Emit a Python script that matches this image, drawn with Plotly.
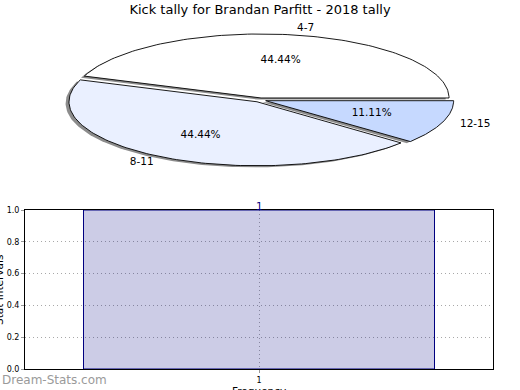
import numpy as np
import plotly.graph_objects as go

# ---- data ----
pie_labels = ["4-7", "8-11", "12-15"]
pie_values = [4, 4, 1]
pie_colors = ["#FFFFFF", "#EAF0FF", "#C6D9FF"]

bar_x = [1]
bar_y = [1]
bar_text = ["1"]
y_ticks = [0.0, 0.2, 0.4, 0.6, 0.8, 1.0]

title_text = "Kick tally for Brandan Parfitt - 2018 tally"
FONT = "DejaVu Sans"

W, H = 520, 390
explode = 0.032
shadow_off = (-0.018, -0.025)

fig = go.Figure()

total = float(sum(pie_values))
angles = []
start = 0.0
for v in pie_values:
    span = 360.0 * v / total
    angles.append((start, start + span))
    start += span

def wedge(t0, t1, cx, cy):
    th = np.radians(np.linspace(t0, t1, 120))
    xs = np.concatenate([[cx], cx + np.cos(th), [cx]])
    ys = np.concatenate([[cy], cy + np.sin(th), [cy]])
    return xs, ys

# shadows
for (t0, t1) in angles:
    mid = np.radians((t0 + t1) / 2)
    cx, cy = explode * np.cos(mid), explode * np.sin(mid)
    xs, ys = wedge(t0, t1, cx + shadow_off[0], cy + shadow_off[1])
    fig.add_trace(go.Scatter(x=xs, y=ys, mode="lines", fill="toself",
                             fillcolor="#8c8c8c", line=dict(color="#8c8c8c", width=0),
                             hoverinfo="skip", showlegend=False, xaxis="x", yaxis="y"))
# slices
for (t0, t1), col in zip(angles, pie_colors):
    mid = np.radians((t0 + t1) / 2)
    cx, cy = explode * np.cos(mid), explode * np.sin(mid)
    xs, ys = wedge(t0, t1, cx, cy)
    fig.add_trace(go.Scatter(x=xs, y=ys, mode="lines", fill="toself",
                             fillcolor=col, line=dict(color="black", width=0.9),
                             hoverinfo="skip", showlegend=False, xaxis="x", yaxis="y"))
# labels
for (t0, t1), lab, v in zip(angles, pie_labels, pie_values):
    mid = np.radians((t0 + t1) / 2)
    cx, cy = explode * np.cos(mid), explode * np.sin(mid)
    lx, ly = cx + 1.1 * np.cos(mid), cy + 1.1 * np.sin(mid)
    pos = "middle right" if lx > 0 else "middle left"
    fig.add_trace(go.Scatter(x=[lx], y=[ly], mode="text", text=[lab], textposition=pos,
                             textfont=dict(family=FONT, size=10.5, color="black"),
                             cliponaxis=False, hoverinfo="skip", showlegend=False,
                             xaxis="x", yaxis="y"))
    px_, py_ = cx + 0.6 * np.cos(mid), cy + 0.6 * np.sin(mid)
    fig.add_trace(go.Scatter(x=[px_], y=[py_], mode="text",
                             text=["%.2f%%" % (100.0 * v / total)], textposition="middle center",
                             textfont=dict(family=FONT, size=10.5, color="black"),
                             cliponaxis=False, hoverinfo="skip", showlegend=False,
                             xaxis="x", yaxis="y"))

# bar chart
fig.add_trace(go.Bar(x=bar_x, y=bar_y, width=0.75,
                     marker=dict(color="rgba(0,0,128,0.2)", line=dict(color="#000080", width=1)),
                     showlegend=False, xaxis="x2", yaxis="y2"))

a_px, b_px = 188.0, 64.0
pie_h = 200.0
grid_dash = "1px,3px"

annotations = [
    dict(text="Stat Intervals", xref="paper", yref="paper", x=-1.0 / W, y=1 - 290 / H,
         textangle=-90, showarrow=False, xanchor="center", yanchor="middle",
         font=dict(family=FONT, size=10.5, color="black")),
    dict(text="Frequency", xref="paper", yref="paper", x=259 / W, y=1 - 391 / H,
         showarrow=False, xanchor="center", yanchor="middle",
         font=dict(family=FONT, size=10.5, color="black")),
    dict(text="Dream-Stats.com", xref="paper", yref="paper", x=0, y=1 - 380 / H,
         showarrow=False, xanchor="left", yanchor="middle",
         font=dict(family=FONT, size=12, color="#9a9a9a")),
]
for bx, by, bt in zip(bar_x, bar_y, bar_text):
    annotations.append(dict(text=bt, xref="x2", yref="y2", x=bx, y=by, yshift=4,
                            showarrow=False, xanchor="center", yanchor="middle",
                            font=dict(family=FONT, size=10.5, color="#000080")))

fig.update_layout(
    width=W, height=H, margin=dict(l=0, r=0, t=0, b=0, autoexpand=False),
    paper_bgcolor="white", plot_bgcolor="white",
    font=dict(family=FONT, color="black"),
    title=dict(text=title_text, x=0.5, xanchor="center", y=1 - 9.5 / H, yanchor="middle",
               automargin=False,
               font=dict(family=FONT, size=13, color="black")),
    xaxis=dict(domain=[0, 1], range=[-(W / 2) / a_px, (W / 2) / a_px], visible=False,
               fixedrange=True, automargin=False),
    yaxis=dict(domain=[1 - pie_h / H, 1], range=[-(pie_h / 2) / b_px, (pie_h / 2) / b_px],
               visible=False, fixedrange=True, automargin=False),
    xaxis2=dict(domain=[25 / W, 493 / W], anchor="y2", range=[0.5, 1.5], automargin=False,
                tickvals=bar_x, ticktext=[str(v) for v in bar_x],
                showline=True, linecolor="black", linewidth=1, mirror=True,
                showgrid=True, gridcolor="#a8a8a8", griddash=grid_dash, gridwidth=1,
                ticks="outside", ticklen=3, tickcolor="#999999",
                tickfont=dict(family=FONT, size=8, color="black"), zeroline=False),
    yaxis2=dict(domain=[1 - 369 / H, 1 - 210 / H], anchor="x2", range=[0, 1], automargin=False,
                tickvals=y_ticks, ticktext=["%.1f" % v for v in y_ticks],
                showline=True, linecolor="black", linewidth=1, mirror=True,
                showgrid=True, gridcolor="#a8a8a8", griddash=grid_dash, gridwidth=1,
                ticks="outside", ticklen=3, tickcolor="#999999",
                tickfont=dict(family=FONT, size=8, color="black"), zeroline=False),
    annotations=annotations,
)

fig.write_html("out.html", config={"displayModeBar": False},
               post_script="document.body.style.margin='0';document.body.style.padding='0';")
